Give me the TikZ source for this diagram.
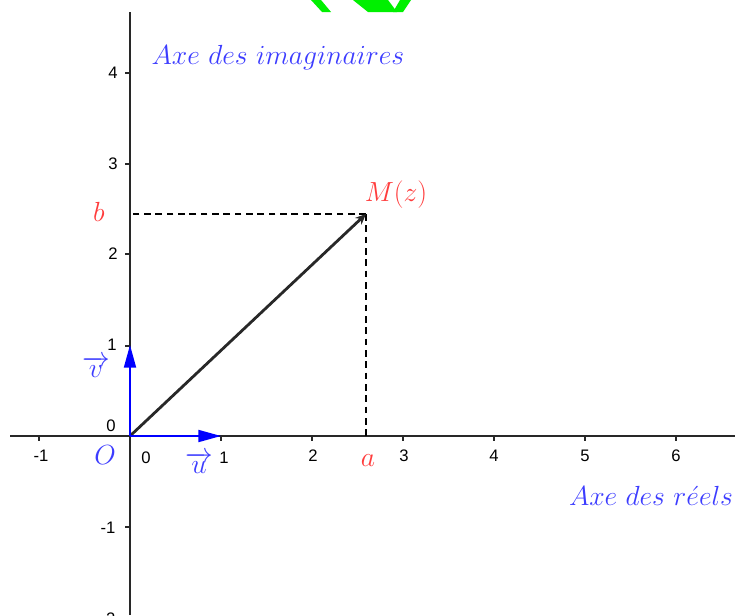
\documentclass[tikz,border=0pt]{standalone}
\usepackage{fontspec}
\newfontfamily\tickfont{Liberation Sans}
\usetikzlibrary{arrows.meta}
\definecolor{lblblue}{RGB}{60,60,255}
\definecolor{lblred}{RGB}{255,60,60}
\definecolor{axgray}{RGB}{40,40,40}
\definecolor{wmgreen}{RGB}{0,240,0}
\tikzset{
  axisline/.style={draw=axgray,line width=1.4pt},
  axtick/.style={draw=axgray,line width=1pt},
  ticklbl/.style={font=\tickfont\fontsize{12.5}{14}\selectfont,text=black,inner sep=0pt},
  mlbl/.style={font=\fontsize{21}{24}\selectfont,inner sep=0pt},
  vecarrow/.style={draw=blue,line width=1.4pt,-{Triangle[length=17pt,width=9pt]}},
  segarrow/.style={draw=axgray,line width=2.1pt,-{Stealth[length=8pt,width=7pt]}},
  projline/.style={draw=black,line width=0.9pt,dash pattern=on 5pt off 3.5pt},
}
\begin{document}
\begin{tikzpicture}[x=0.75pt,y=-0.75pt]
\useasboundingbox (0,0) rectangle (735,615);
% watermark fragment
\fill[wmgreen] (311,0) -- (321,0) -- (331,12) -- (322,12) -- cycle;
\fill[wmgreen] (353,0) -- (388,0) -- (397,12) -- (368,12) -- cycle;
\fill[wmgreen] (400,0) -- (411,0) -- (403,12) -- (393,12) -- cycle;
% coordinates
\coordinate (O) at (130,436);
\coordinate (xl) at (10,436);
\coordinate (xr) at (735,436);
\coordinate (yt) at (130,12);
\coordinate (yb) at (130,615);
\coordinate (U) at (221,436);
\coordinate (V) at (130,345);
\coordinate (M) at (366,214);
\coordinate (A) at (366,436);
\coordinate (B) at (130,214);
% axes
\draw[axisline] (xl) -- (xr);
\draw[axisline] (yb) -- (yt);
% x ticks
\foreach \i/\px in {-1/39,1/221,2/312,3/403,4/494,5/585,6/676}{
  \draw[axtick] (\px,436) -- (\px,441);
}
\foreach \i/\px/\py in {-1/41/456,0/146/458,1/224/458,2/313/456,3/404/456,4/494/456,5/585/456,6/676/456}{
  \node[ticklbl] (tx\i) at (\px,\py) {\i};
}
% y ticks
\foreach \i/\py in {4/73,3/164,2/254,1/346,-1/527,-2/617}{
  \draw[axtick] (125,\py) -- (130,\py);
}
\foreach \i/\px/\py in {4/113/73,3/113/164,2/113/254,1/112/345,0/111/426,-1/108/528,-2/108/619}{
  \node[ticklbl] (ty\i) at (\px,\py) {\i};
}
% dashed projections
\draw[projline] (M) -- (B);
\draw[projline] (M) -- (A);
% vector OM
\draw[segarrow] (O) -- (M);
% base vectors
\draw[vecarrow] (O) -- (U);
\draw[vecarrow] (O) -- (V);
% labels
\node[mlbl,text=lblred] (lb) at (99,212) {$b$};
\node[mlbl,text=lblred] (lM) at (396,195) {$M(z)$};
\node[mlbl,text=lblred] (la) at (368,461) {$a$};
\node[mlbl,text=lblblue] (lO) at (105,455) {$O$};
\node[mlbl,text=lblblue] (lu) at (199,463) {$\overrightarrow{u}$};
\node[mlbl,text=lblblue] (lv) at (96,367) {$\overrightarrow{v}$};
\node[mlbl,text=lblblue] (ly) at (278,58) {$Axe\ des\ imaginaires$};
\node[mlbl,text=lblblue] (lx) at (651,496) {$Axe\ des\ r\acute{e}els$};
\end{tikzpicture}
\end{document}
